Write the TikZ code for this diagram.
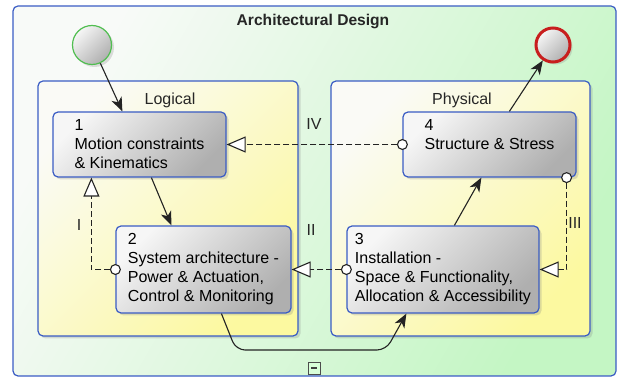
\documentclass[tikz,border=0pt]{standalone}
\usepackage{fontspec}
\setmainfont{Liberation Sans}
\usetikzlibrary{arrows.meta,shadows}
\definecolor{bord}{RGB}{58,92,196}
\definecolor{ln}{RGB}{35,35,35}
\definecolor{outerL}{RGB}{248,250,248}
\definecolor{outerR}{RGB}{196,246,196}
\definecolor{contL}{RGB}{250,250,246}
\definecolor{contR}{RGB}{252,249,160}
\definecolor{boxL}{RGB}{246,246,246}
\definecolor{boxR}{RGB}{175,175,175}
\definecolor{startc}{RGB}{80,190,80}
\definecolor{endc}{RGB}{200,30,30}
\tikzset{
  shadowed/.style={drop shadow={opacity=0.25, shadow xshift=2.5pt, shadow yshift=-2.5pt}},
  outerbox/.style={draw=bord, line width=1.2pt, rounded corners=5pt, top color=outerL, bottom color=outerR, shading angle=60, minimum width=603pt, minimum height=370pt, inner sep=0pt},
  container/.style={draw=bord, line width=1.2pt, rounded corners=5pt, top color=contL, bottom color=contR, shading angle=45, shadowed, inner sep=0pt, minimum height=255pt},
  stepbox/.style={draw=bord, line width=1.2pt, rounded corners=5pt, top color=boxL, bottom color=boxR, shading angle=45, shadowed, align=left, inner sep=0pt, minimum height=65pt},
  startev/.style={circle, draw=startc, line width=1.2pt, top color=boxL, bottom color=boxR, shading angle=45, shadowed, minimum size=39pt, inner sep=0pt},
  endev/.style={circle, draw=endc, line width=3pt, top color=boxL, bottom color=boxR, shading angle=45, shadowed, minimum size=34pt, inner sep=0pt},
  flow/.style={draw=ln, line width=1.1pt, -{Stealth[length=14pt,width=11pt,inset=4pt]}},
  real/.style={draw=ln, line width=1pt, dash pattern=on 6pt off 3pt, shorten <=-5.5pt, {Circle[length=11pt,fill=white,line width=1.1pt]}-{Triangle[length=19pt,width=16pt,fill=white,line width=1.1pt]}},
  lbl/.style={inner sep=0pt, text=black!85},
}
\begin{document}
\begin{tikzpicture}[x=1pt,y=-1pt, font=\fontsize{16}{19}\selectfont]
\useasboundingbox (0,0) rectangle (619,379);
% frame
\node[outerbox] (frame) at (314.5,191) {};
\node[lbl, font=\fontsize{15.6}{19}\selectfont\bfseries] (title) at (313,22) {Architectural Design};
% containers
\node[container, minimum width=260pt] (logical) at (168,208.5) {};
\node[container, minimum width=259pt] (physical) at (460.5,208.5) {};
\node[lbl] (logt) at (170,100) {Logical};
\node[lbl] (phyt) at (462,100) {Physical};
% events
\node[startev] (start) at (92,45) {};
\node[endev] (end) at (553,45) {};
% steps
\node[stepbox, minimum width=173pt] (n1) at (139.5,144.5) {1\\Motion constraints\\\& Kinematics};
\node[stepbox, minimum width=173pt, text depth=21pt] (n4) at (489.5,144.5) {4\\Structure \& Stress};
\node[stepbox, minimum width=175pt, minimum height=87pt] (n2) at (203.5,269.5) {2\\System architecture -\\Power \& Actuation,\\Control \& Monitoring};
\node[stepbox, minimum width=192pt, minimum height=87pt] (n3) at (443,269.5) {3\\Installation -\\Space \& Functionality,\\Allocation \& Accessibility};
% flows
\draw[flow] (start) -- ([xshift=70pt]n1.north west);
\draw[flow] ([xshift=99pt]n1.south west) -- ([xshift=56pt]n2.north west);
\coordinate (b1) at (236,350);
\coordinate (b2) at (386,350);
\draw[flow, rounded corners=9pt] ([xshift=106pt]n2.south west) -- (b1) -- (b2) -- ([xshift=60pt]n3.south west);
\draw[flow] ([xshift=108pt]n3.north west) -- ([xshift=79pt]n4.south west);
\draw[flow] ([xshift=107pt]n4.north west) -- (end);
% realizations
\draw[real] (n4.west) -- (n1.east);
\draw[real] (n3.west) -- (n2.east);
\draw[real] (n2.west) -| ([xshift=39pt]n1.south west);
\draw[real] ([xshift=-10pt]n4.south east) |- (n3.east);
\node[lbl] (lIV) at (314,124) {IV};
\node[lbl] (lII) at (311,230) {II};
\node[lbl] (lI) at (79,225) {I};
\node[lbl] (lIII) at (575,223) {III};
% collapse icon
\node[draw=black!70, line width=0.9pt, minimum size=12pt, inner sep=0pt, fill=white!85!green] (collapse) at (314,368) {};
\draw[black!75, line width=1.2pt] ([xshift=-3pt]collapse.center) -- ([xshift=3pt]collapse.center);
\end{tikzpicture}
\end{document}
